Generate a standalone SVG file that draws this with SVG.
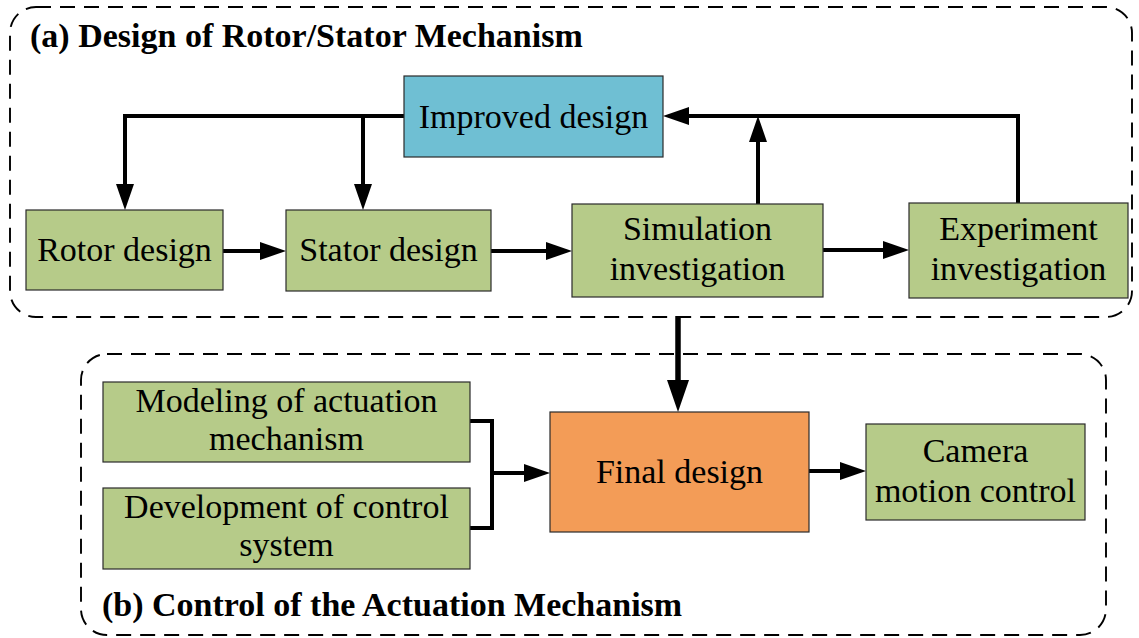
<svg xmlns="http://www.w3.org/2000/svg" width="1139" height="638" viewBox="0 0 1139 638">
  <style>
    .frame { fill: none; stroke: #000; stroke-width: 1.9; stroke-dasharray: 15 9; }
    .title { font-family: "Liberation Serif", "Times New Roman", serif; font-size: 34px; font-weight: bold; fill: #000; }
    .box { stroke: #2a2a2a; stroke-width: 1.2; }
    .green { fill: #B6CB89; }
    .blue { fill: #6FBFD3; }
    .orange { fill: #F39C57; }
    .label { font-family: "Liberation Serif", "Times New Roman", serif; font-size: 34px; fill: #000; text-anchor: middle; }
    .conn { fill: none; stroke: #000; stroke-width: 4; stroke-linejoin: miter; }
    .thick { stroke-width: 5.5; }
  </style>
  <defs>
    <marker id="arrow" markerUnits="userSpaceOnUse" markerWidth="26" markerHeight="18" refX="16" refY="9" orient="auto" overflow="visible">
      <path d="M0,0 L26,9 L0,18 Z" fill="#000"/>
    </marker>
    <marker id="arrowBig" markerUnits="userSpaceOnUse" markerWidth="32" markerHeight="22" refX="20" refY="11" orient="auto" overflow="visible">
      <path d="M0,0 L32,11 L0,22 Z" fill="#000"/>
    </marker>
  </defs>
  <rect width="1139" height="638" fill="#fff"/>

  <!-- dashed section frames -->
  <g id="section-a">
    <rect class="frame" x="10" y="7" width="1122" height="310" rx="26" ry="26"/>
    <text class="title" x="30" y="47">(a) Design of Rotor/Stator Mechanism</text>
  </g>
  <g id="section-b">
    <rect class="frame" x="81" y="354" width="1025" height="281" rx="26" ry="26"/>
    <text class="title" x="102" y="616">(b) Control of the Actuation Mechanism</text>
  </g>

  <!-- connectors -->
  <g id="connectors">
    <path class="conn" d="M404,116 H125 V200" marker-end="url(#arrow)"/>
    <path class="conn" d="M363,116 V200" marker-end="url(#arrow)"/>
    <path class="conn" d="M223,251 H276" marker-end="url(#arrow)"/>
    <path class="conn" d="M491,251 H562" marker-end="url(#arrow)"/>
    <path class="conn" d="M823,250 H899" marker-end="url(#arrow)"/>
    <path class="conn" d="M758,204 V126" marker-end="url(#arrow)"/>
    <path class="conn" d="M1018,203 V116 H673" marker-end="url(#arrow)"/>
    <path class="conn thick" d="M678,316 V400" marker-end="url(#arrowBig)"/>
    <path class="conn" d="M470,421 H492 V528 H470"/>
    <path class="conn" d="M492,473 H540" marker-end="url(#arrow)"/>
    <path class="conn" d="M809,471 H856" marker-end="url(#arrow)"/>
  </g>

  <!-- nodes -->
  <g id="improved-design">
    <rect class="box blue" x="404" y="76" width="259" height="81"/>
    <text class="label" x="533.5" y="128">Improved design</text>
  </g>
  <g id="rotor-design">
    <rect class="box green" x="26" y="210" width="197" height="80"/>
    <text class="label" x="124.5" y="261">Rotor design</text>
  </g>
  <g id="stator-design">
    <rect class="box green" x="286" y="210" width="205" height="81"/>
    <text class="label" x="388.5" y="261">Stator design</text>
  </g>
  <g id="simulation-investigation">
    <rect class="box green" x="572" y="204" width="251" height="93"/>
    <text class="label" x="697.5" y="240">Simulation</text>
    <text class="label" x="697.5" y="280">investigation</text>
  </g>
  <g id="experiment-investigation">
    <rect class="box green" x="909" y="203" width="219" height="95"/>
    <text class="label" x="1018.5" y="240">Experiment</text>
    <text class="label" x="1018.5" y="280">investigation</text>
  </g>
  <g id="modeling">
    <rect class="box green" x="103" y="382" width="367" height="80"/>
    <text class="label" x="286.5" y="412">Modeling of actuation</text>
    <text class="label" x="286.5" y="450">mechanism</text>
  </g>
  <g id="control-system">
    <rect class="box green" x="103" y="488" width="367" height="81"/>
    <text class="label" x="286.5" y="518">Development of control</text>
    <text class="label" x="286.5" y="556">system</text>
  </g>
  <g id="final-design">
    <rect class="box orange" x="550" y="412" width="259" height="120"/>
    <text class="label" x="679.5" y="483">Final design</text>
  </g>
  <g id="camera-motion-control">
    <rect class="box green" x="866" y="424" width="219" height="96"/>
    <text class="label" x="975.5" y="462">Camera</text>
    <text class="label" x="975.5" y="502">motion control</text>
  </g>
</svg>
